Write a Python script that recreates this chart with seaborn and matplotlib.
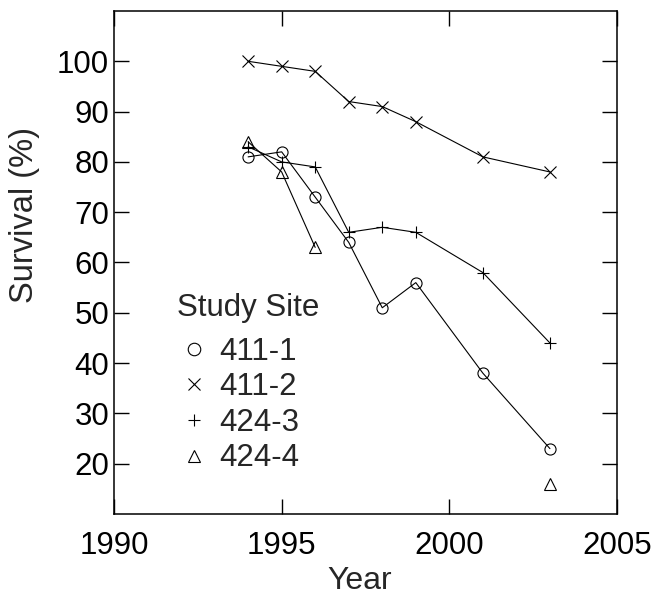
import numpy as np
import pandas as pd
import matplotlib
matplotlib.use("Agg")
import matplotlib.pyplot as plt
from matplotlib.lines import Line2D
import seaborn as sns

# survival of planted stock by study site
years = [1994, 1995, 1996, 1997, 1998, 1999, 2001, 2003]
site_411_1 = [81, 82, 73, 64, 51, 56, 38, 23]
site_411_2 = [100, 99, 98, 92, 91, 88, 81, 78]
site_424_3 = [83, 80, 79, 66, 67, 66, 58, 44]
site_424_4 = [84, 78, 63, np.nan, np.nan, np.nan, np.nan, 16]

sites = ["411-1", "411-2", "424-3", "424-4"]
site_markers = {"411-1": "o", "411-2": "x", "424-3": "+", "424-4": "^"}

rows = []
for site, vals in zip(sites, [site_411_1, site_411_2, site_424_3, site_424_4]):
    seg = 0
    for yr, v in zip(years, vals):
        if np.isnan(v):
            seg += 1  # break the line where a year is missing
            continue
        rows.append({"Year": yr, "Survival": v, "Site": site, "Segment": f"{site}-{seg}"})
df = pd.DataFrame(rows)

sns.set_theme(style="ticks")
plt.rcParams["font.family"] = ["Liberation Sans", "DejaVu Sans"]

fig = plt.figure(figsize=(6.59, 5.94), dpi=100)
ax = fig.add_axes([114 / 659, 1 - 514 / 594, 503 / 659, 503 / 594])

# seaborn won't mix filled and line-art markers in one style map, so one call per site
for site in sites:
    sns.lineplot(data=df[df["Site"] == site], x="Year", y="Survival",
                 units="Segment", estimator=None, marker=site_markers[site],
                 color="black", linewidth=0.8, markersize=8,
                 markerfacecolor="none", markeredgecolor="black",
                 markeredgewidth=0.8, legend=False, ax=ax)

ax.set_xlim(1990, 2005)
ax.set_ylim(10, 110)
ax.set_xticks([1990, 1995, 2000, 2005])
ax.set_yticks(range(20, 101, 10))
ax.tick_params(direction="in", length=11, width=1, top=True, right=True,
               labelsize=22.5, colors="black")
ax.tick_params(axis="x", pad=12)
ax.tick_params(axis="y", pad=3.5)
for sp in ax.spines.values():
    sp.set_linewidth(1.1)
    sp.set_color("black")

ax.set_xlabel("Year", fontsize=23)
ax.xaxis.set_label_coords(0.488, -0.104)
ax.set_ylabel("Survival (%)", fontsize=23.5)
ax.yaxis.set_label_coords(-0.147, 0.595)

handles = [Line2D([], [], marker=site_markers[s], linestyle="none", color="black",
                  markerfacecolor="none", markersize=9, markeredgewidth=0.8)
           for s in sites]
leg = ax.legend(handles, sites, title="Study Site", loc="upper left",
                bbox_to_anchor=(0.125, 0.44), frameon=False, fontsize=22.5,
                title_fontsize=22.5, handlelength=1.09, handletextpad=0.26,
                labelspacing=0.18, borderpad=0, borderaxespad=0,
                alignment="left")
leg._legend_box.sep = 10  # a bit more room under the title

fig.savefig("out.png", dpi=100)
